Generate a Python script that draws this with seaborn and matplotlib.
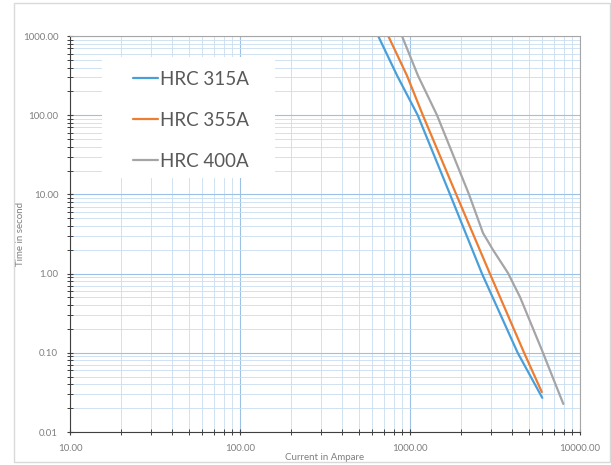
import numpy as np
import pandas as pd
import matplotlib
matplotlib.use("Agg")
import matplotlib.pyplot as plt
from matplotlib.patches import Rectangle
from matplotlib.ticker import LogLocator, FormatStrFormatter, NullFormatter
import seaborn as sns

# fuse curves (current in A, time in s)
i_315 = [650, 840, 1110, 1720, 2650, 4300, 6000]
t_315 = [1000, 316, 100, 10, 1, 0.1, 0.027]

i_355 = [745, 960, 1190, 1870, 2950, 4690, 5960]
t_355 = [1000, 316, 100, 10, 1, 0.1, 0.032]

i_400 = [897, 1114, 1442, 2224, 2687, 3078, 3767, 4436, 5970, 7980]
t_400 = [1000, 316, 100, 10, 3.26, 1.99, 1.02, 0.507, 0.108, 0.0226]

names = ["HRC 315A", "HRC 355A", "HRC 400A"]
colors = ["#4A9FD8", "#ED7D31", "#A5A5A5"]

frames = []
for name, xs, ys in zip(names, [i_315, i_355, i_400], [t_315, t_355, t_400]):
    frames.append(pd.DataFrame({"current": xs, "time": ys, "fuse": name}))
df = pd.concat(frames, ignore_index=True)

sns.set_style("white")
plt.rcParams["font.family"] = ["Lato", "DejaVu Sans"]

fig = plt.figure(figsize=(6.11, 4.65), dpi=100)
ax = fig.add_axes([70 / 611, 1 - 432 / 465, 510 / 611, 396 / 465])

sns.lineplot(data=df, x="current", y="time", hue="fuse", palette=colors,
             sort=False, linewidth=1.6, ax=ax)

ax.set_xscale("log")
ax.set_yscale("log")
ax.set_xlim(10, 10000)
ax.set_ylim(0.01, 1000)

ax.xaxis.set_major_locator(LogLocator(base=10))
ax.xaxis.set_minor_locator(LogLocator(base=10, subs=np.arange(2, 10)))
ax.yaxis.set_major_locator(LogLocator(base=10))
ax.yaxis.set_minor_locator(LogLocator(base=10, subs=np.arange(2, 10)))
ax.xaxis.set_major_formatter(FormatStrFormatter("%.2f"))
ax.yaxis.set_major_formatter(FormatStrFormatter("%.2f"))
ax.xaxis.set_minor_formatter(NullFormatter())
ax.yaxis.set_minor_formatter(NullFormatter())

ax.grid(which="major", color="#9BC2E6", linewidth=0.8)
ax.grid(which="minor", color="#C9DEF0", linewidth=0.6)
ax.set_axisbelow(True)

ax.tick_params(which="both", direction="inout", color="#404040",
               labelsize=7, labelcolor="#7F7F7F", bottom=True, left=True)
ax.tick_params(which="major", length=5, width=0.8, pad=6)
ax.tick_params(which="minor", length=4, width=0.7)

for side in ["left", "bottom"]:
    ax.spines[side].set_color("#404040")
    ax.spines[side].set_linewidth(0.8)
for side in ["top", "right"]:
    ax.spines[side].set_color("#A6A6A6")
    ax.spines[side].set_linewidth(0.8)

ax.set_xlabel("Current in Ampare", fontsize=7, color="#7F7F7F", labelpad=0)
ax.set_ylabel("Time in second", fontsize=7, color="#7F7F7F")
ax.yaxis.set_label_coords(-0.088, 0.5)

# white block behind the legend that hides the grid
ax.add_patch(Rectangle(((102 - 70) / 510, (432 - 178) / 396), 173 / 510, 121 / 396,
                       transform=ax.transAxes, facecolor="white", edgecolor="none",
                       zorder=1.5))

leg = ax.legend(loc="upper left", bbox_to_anchor=((133 - 70) / 510, (432 - 71) / 396),
                borderaxespad=0, borderpad=0, fontsize=13.5, frameon=False,
                handlelength=1.35, handletextpad=0.1, labelspacing=1.28)
for txt in leg.get_texts():
    txt.set_color("#595959")

# light frame around the whole chart
fig.patches.append(Rectangle((14 / 611, 3 / 465), 596 / 611, 459 / 465,
                             transform=fig.transFigure, fill=False,
                             edgecolor="#D9D9D9", linewidth=1))

fig.savefig("out.png", dpi=100)
